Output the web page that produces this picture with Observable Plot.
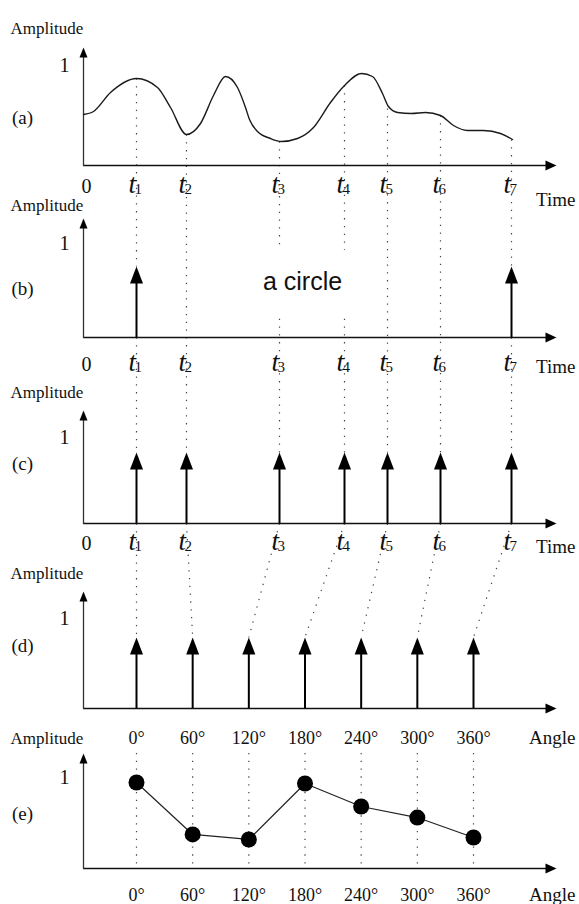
<!DOCTYPE html>
<html>
<head>
<meta charset="utf-8">
<script src="https://cdn.jsdelivr.net/npm/d3@7"></script>
<script src="https://cdn.jsdelivr.net/npm/@observablehq/plot@0.6"></script>
<style>
  html, body { margin: 0; padding: 0; background: #fff; }
  #chart svg { display: block; }
</style>
</head>
<body>
<div id="chart"></div>
<script>
// ---------------- DATA ----------------
const panelLabels = ["(a)", "(b)", "(c)", "(d)", "(e)"];
const yTitle = "Amplitude";
const timeTitle = "Time";
const angleTitle = "Angle";
const oneLabel = "1";
const zeroLabel = "0";
// sampling instants (time units)
const timeSubscripts = ["1", "2", "3", "4", "5", "6", "7"];
const times = [5.3, 10.3, 19.6, 26.1, 30.4, 35.7, 42.8];
// continuous signal (a)
const curveT = [0, 1.0, 2.7, 5.3, 7.4, 8.7, 10.3, 11.7, 13.0, 14.2, 15.4, 16.2, 16.6, 17.4, 18.7, 19.8, 21.4, 23.0, 24.7, 26.1, 27.8, 28.9, 29.9, 30.5, 31.4, 32.8, 34.2, 35.7, 37.0, 38.4, 40.0, 41.7, 42.9];
const curveA = [0.51, 0.54, 0.73, 0.87, 0.78, 0.58, 0.31, 0.42, 0.70, 0.89, 0.78, 0.58, 0.46, 0.34, 0.27, 0.24, 0.27, 0.38, 0.63, 0.80, 0.92, 0.89, 0.72, 0.59, 0.53, 0.52, 0.53, 0.50, 0.40, 0.35, 0.35, 0.32, 0.26];
// value of the signal at each instant
const sampleAmps = [0.87, 0.31, 0.24, 0.80, 0.57, 0.50, 0.26];
// (b) one circle: pulses at t1 and t7
const circlePulses = [0, 6];
const circleText = "a circle";
const pulseAmpB = 0.755;
// (c) pulses at every instant
const pulseAmpC = 0.826;
// (d) / (e) angles
const angles = [0, 60, 120, 180, 240, 300, 360];
const angleLabels = ["0°", "60°", "120°", "180°", "240°", "300°", "360°"];
const pulseAmpD = 0.79;
const dotAmps = [0.945, 0.374, 0.319, 0.934, 0.681, 0.560, 0.341];

// ---------------- LAYOUT ----------------
const L = {
  axisY: [165, 337, 523, 708, 868],
  unit: [100, 94, 86, 90, 91],
  tipY: [47, 218, 410, 591, 753],
  titleY: [33, 210, 397, 578, 743],
  panelLabelY: [117, 288, 463, 645, 813],
  timeRowY: [192, 370, 549],
  timeTitleY: [205, 372, 552],
  angleRowY: [743, 900],
  xEnd: 47.3, titleX: -7.3, panelLabelX: -6.1, oneX: -1.9, zeroX: 0.3, rightX: 49.2,
  gapB: [0.20, 0.93],
  eDotTop: 1.27,
  circleX: 21.9, circleAmp: 0.51
};
const Y = (p, a) => L.axisY[p] - a * L.unit[p];
const angleX = d3.scaleLinear().domain([0, 360]).range([5.3, 39.0]);

const serif = "'Liberation Serif', 'Times New Roman', serif";
const sans = "'Liberation Sans', Arial, sans-serif";

// custom arrowhead symbols (tip at the anchor point)
const triUp = (w, h) => ({draw(ctx) { ctx.moveTo(0, 0); ctx.lineTo(w / 2, h); ctx.lineTo(-w / 2, h); ctx.closePath(); }});
const triRight = (w, h) => ({draw(ctx) { ctx.moveTo(0, 0); ctx.lineTo(-h, -w / 2); ctx.lineTo(-h, w / 2); ctx.closePath(); }});

// ---------------- DERIVED TABLES ----------------
const panels = d3.range(5);
const segs = [];
times.forEach((t, i) => {
  const top = Y(0, sampleAmps[i]);
  const cTop = Y(2, pulseAmpC);
  if (circlePulses.includes(i)) {
    segs.push({x1: t, y1: top, x2: t, y2: Y(1, pulseAmpB)});
    segs.push({x1: t, y1: L.axisY[1], x2: t, y2: cTop});
  } else if (i === 2 || i === 3) {
    segs.push({x1: t, y1: top, x2: t, y2: Y(1, L.gapB[1])});
    segs.push({x1: t, y1: Y(1, L.gapB[0]), x2: t, y2: cTop});
  } else {
    segs.push({x1: t, y1: top, x2: t, y2: cTop});
  }
  // (c) -> (d)
  segs.push({x1: t, y1: L.axisY[2], x2: angleX(angles[i]), y2: Y(3, pulseAmpD)});
  // (e) guide lines
  const ax = angleX(angles[i]);
  segs.push({x1: ax, y1: Y(4, L.eDotTop), x2: ax, y2: L.axisY[4]});
});

const curve = curveT.map((t, i) => ({x: t, y: Y(0, curveA[i])}));
const pulses = [
  ...circlePulses.map(i => ({x: times[i], base: L.axisY[1], tip: Y(1, pulseAmpB)})),
  ...times.map(t => ({x: t, base: L.axisY[2], tip: Y(2, pulseAmpC)})),
  ...angles.map(a => ({x: angleX(a), base: L.axisY[3], tip: Y(3, pulseAmpD)}))
];
const eDots = angles.map((a, i) => ({x: angleX(a), y: Y(4, dotAmps[i])}));

const tRows = [];
L.timeRowY.forEach(y => times.forEach((t, i) => tRows.push({x: t, y, sub: timeSubscripts[i]})));
const degRows = [];
L.angleRowY.forEach(y => angles.forEach((a, i) => degRows.push({x: angleX(a), y, text: angleLabels[i]})));

const chart = Plot.plot({
  width: 579,
  height: 904,
  margin: 0,
  x: {domain: [0, L.xEnd], range: [83, 556], axis: null},
  y: {type: "identity", axis: null},
  style: {background: "#fff", overflow: "visible"},
  marks: [
    // dotted guide lines
    Plot.link(segs, {x1: "x1", y1: "y1", x2: "x2", y2: "y2", stroke: "#444", strokeWidth: 1.2, strokeDasharray: "1.3,6.5"}),
    // axes
    Plot.ruleY(panels, {y: p => L.axisY[p], x1: 0, x2: L.xEnd - 0.6, stroke: "#111", strokeWidth: 1.6}),
    Plot.ruleX(panels, {x: 0, y1: p => L.axisY[p] + 0.8, y2: p => L.tipY[p] + 6, stroke: "#333", strokeWidth: 1.3}),
    Plot.dot(panels, {x: L.xEnd, y: p => L.axisY[p], symbol: triRight(10, 11), fill: "#000", stroke: null}),
    Plot.dot(panels, {x: 0, y: p => L.tipY[p], symbol: triUp(8, 10), fill: "#000", stroke: null}),
    // (a) continuous signal
    Plot.line(curve, {x: "x", y: "y", curve: "monotone-x", stroke: "#1a1a1a", strokeWidth: 1.4}),
    // (b)(c)(d) impulses
    Plot.ruleX(pulses, {x: "x", y1: "base", y2: d => d.tip + 10, stroke: "#000", strokeWidth: 2}),
    Plot.dot(pulses, {x: "x", y: "tip", symbol: triUp(13, 17), fill: "#000", stroke: null}),
    // (e) samples
    Plot.line(eDots, {x: "x", y: "y", stroke: "#222", strokeWidth: 1.2}),
    Plot.dot(eDots, {x: "x", y: "y", r: 8, fill: "#000", stroke: null}),
    // texts
    Plot.text(panels, {x: L.titleX, y: p => L.titleY[p], text: () => yTitle, textAnchor: "start", lineAnchor: "bottom", fontFamily: serif, fontSize: 17, fill: "#111"}),
    Plot.text(panels, {x: L.panelLabelX, y: p => L.panelLabelY[p], text: p => panelLabels[p], lineAnchor: "middle", fontFamily: serif, fontSize: 19, fill: "#111"}),
    Plot.text(panels, {x: L.oneX, y: p => Y(p, 1), text: () => oneLabel, lineAnchor: "middle", fontFamily: serif, fontSize: 20, fill: "#111"}),
    Plot.text(L.timeRowY, {x: L.zeroX, y: d => d, text: () => zeroLabel, lineAnchor: "bottom", fontFamily: serif, fontSize: 20, fill: "#111"}),
    Plot.text(L.timeTitleY, {x: L.rightX, y: d => d, text: () => timeTitle, textAnchor: "end", lineAnchor: "bottom", fontFamily: serif, fontSize: 19, fill: "#111"}),
    Plot.text(tRows, {x: "x", y: "y", text: () => "t", textAnchor: "end", dx: -0.5, lineAnchor: "bottom", fontFamily: serif, fontStyle: "italic", fontSize: 27, fill: "#111"}),
    Plot.text(tRows, {x: "x", y: "y", text: "sub", textAnchor: "start", dx: -2, dy: 1, lineAnchor: "bottom", fontFamily: serif, fontSize: 15, fill: "#111"}),
    Plot.text(degRows, {x: "x", y: "y", text: "text", lineAnchor: "bottom", fontFamily: serif, fontSize: 18, fill: "#111"}),
    Plot.text(L.angleRowY, {x: L.rightX, y: d => d, text: () => angleTitle, textAnchor: "end", lineAnchor: "bottom", fontFamily: serif, fontSize: 19, fill: "#111"}),
    Plot.text([circleText], {x: L.circleX, y: Y(1, L.circleAmp), text: d => d, lineAnchor: "bottom", fontFamily: sans, fontSize: 25, fill: "#111"})
  ]
});
document.getElementById("chart").appendChild(chart);
</script>
</body>
</html>
